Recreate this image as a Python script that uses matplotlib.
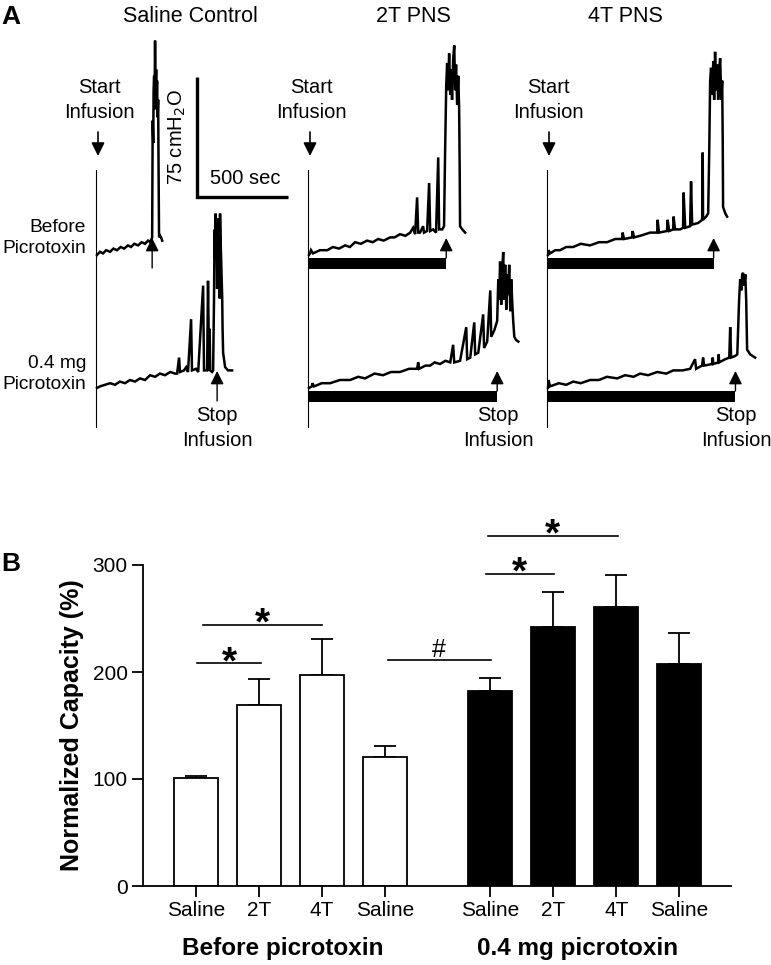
import matplotlib.pyplot as plt
from matplotlib.patches import Rectangle
import numpy as np

plt.rcParams['font.family'] = ['Liberation Sans', 'DejaVu Sans']

# ---------------- Panel A: cystometry traces ----------------
# time (s) from start of infusion, pressure (cmH2O) above starting pressure

# saline control, before picrotoxin
sal_pre_t = [0, 16, 33, 50, 72, 90, 110, 130, 149, 170, 187, 205, 226, 245, 264, 280, 292, 303,
             306, 309, 311, 314, 316, 319, 322, 325, 327, 330, 333, 336, 338, 341, 347, 352, 358]
sal_pre_p = [0, 2, 1, 3, 2, 4, 3, 5, 4, 6, 5, 7, 6, 8, 7, 9, 8, 11,
             84, 70, 103, 112, 91, 134, 100, 116, 94, 109, 86, 97, 59, 11, 12, 11, 9]

# saline control, 0.4 mg picrotoxin
sal_pic_t = [0, 16, 44, 72, 99, 126, 154, 181, 209, 236, 264, 292, 319, 346, 374, 402, 429, 440,
             451, 456, 478, 490, 500, 517, 522, 544, 556, 583, 588, 605, 610, 616, 619, 622, 632,
             638, 643, 646, 649, 652, 654, 657, 660, 663, 666, 668, 671, 674, 676, 679, 682, 685,
             688, 690, 693, 704, 720, 742]
sal_pic_p = [0, 1, 2, 3, 2, 4, 3, 5, 4, 6, 5, 8, 7, 9, 8, 10, 9, 9,
             19, 10, 11, 13, 10, 43, 11, 12, 10, 64, 11, 11, 67, 11, 37, 11, 10,
             11, 56, 99, 81, 109, 87, 102, 62, 96, 74, 106, 90, 56, 109, 93, 81, 68,
             56, 37, 22, 13, 11, 11]

# 2T PNS, before picrotoxin
t2_pre_t = [0, 6, 11, 22, 60, 100, 132, 165, 198, 225, 253, 285, 319, 350, 380, 410, 446, 470,
            500, 530, 556, 572, 583, 594, 600, 610, 627, 632, 649, 660, 666, 682, 698, 710, 715,
            732, 742, 748, 754, 759, 764, 770, 776, 781, 786, 792, 798, 803, 808, 814, 820, 825,
            828, 830, 842, 858]
t2_pre_p = [0, 1, 3, 1, 3, 3, 5, 4, 6, 5, 8, 7, 9, 8, 10, 9, 11, 11,
            13, 12, 14, 17, 13, 36, 14, 14, 18, 14, 15, 45, 15, 16, 14, 61, 16,
            16, 18, 66, 106, 120, 103, 126, 100, 116, 97, 122, 131, 103, 119, 94, 112, 91,
            53, 18, 16, 14]

# 2T PNS, 0.4 mg picrotoxin
t2_pic_t = [0, 16, 19, 28, 70, 116, 170, 226, 270, 308, 360, 407, 450, 500, 550, 594, 600, 605,
            640, 666, 690, 720, 750, 776, 792, 798, 830, 864, 869, 886, 908, 913, 930, 957, 962,
            979, 996, 1001, 1018, 1034, 1040, 1045, 1050, 1056, 1062, 1067, 1072, 1078, 1084,
            1089, 1094, 1100, 1106, 1111, 1116, 1122, 1128, 1138, 1150]
t2_pic_p = [0, 1, 3, 1, 3, 3, 5, 5, 7, 6, 9, 8, 10, 10, 12, 12, 16, 12,
            14, 14, 16, 15, 17, 16, 27, 16, 17, 38, 18, 19, 41, 21, 22, 46, 25,
            29, 61, 32, 36, 42, 68, 55, 79, 52, 74, 85, 55, 77, 49,
            71, 58, 77, 48, 68, 55, 42, 32, 30, 29]

# 4T PNS, before picrotoxin
t4_pre_t = [0, 3, 11, 40, 66, 100, 138, 180, 231, 280, 324, 370, 407, 410, 418, 462, 465, 473,
            506, 534, 561, 600, 602, 610, 654, 657, 666, 688, 690, 698, 726, 742, 745, 754, 781,
            786, 792, 825, 847, 850, 852, 869, 880, 886, 891, 896, 902, 908, 913, 918, 924, 930,
            935, 940, 946, 952, 957, 960, 962, 974, 984]
t4_pre_p = [0, 3, 1, 3, 3, 5, 5, 7, 6, 8, 8, 10, 10, 14, 10, 11, 15, 11,
            12, 13, 14, 14, 22, 14, 15, 22, 15, 16, 24, 16, 16, 17, 39, 17, 18,
            46, 19, 20, 22, 64, 22, 24, 26, 66, 109, 117, 100, 121, 97, 127, 103, 119,
            97, 116, 123, 97, 109, 72, 30, 26, 24]

# 4T PNS, 0.4 mg picrotoxin
t4_pic_t = [0, 3, 11, 60, 100, 138, 180, 231, 280, 324, 380, 424, 470, 506, 550, 600, 650, 688,
            740, 781, 808, 814, 847, 852, 858, 902, 905, 908, 935, 938, 940, 974, 996, 1001, 1006,
            1028, 1040, 1050, 1056, 1062, 1067, 1072, 1078, 1084, 1089, 1094, 1111, 1138]
t4_pic_p = [0, 5, 1, 3, 2, 4, 3, 5, 5, 7, 6, 8, 7, 9, 8, 10, 9, 11,
            11, 12, 18, 12, 14, 19, 14, 15, 19, 15, 16, 21, 16, 18, 19, 38, 19,
            20, 21, 55, 68, 61, 71, 72, 64, 71, 55, 24, 21, 19]

# stop-infusion times (s)
stop_pre = [303, 754, 910]
stop_pic = [660, 1034, 1030]

col_titles = ['Saline Control', '2T PNS', '4T PNS']
scale_sec = 500
scale_cm = 75

# ---------------- Panel B: normalized capacity ----------------
groups = ['Saline', '2T', '4T', 'Saline']
before_mean = [100.6, 169, 197, 121]
before_sem = [1.9, 24, 33.5, 10]
picro_mean = [182.5, 242, 260.5, 207.5]
picro_sem = [12, 33, 30, 29]

sig_x0 = [0.02, 0.11, 3.04, 4.60, 4.63]
sig_x1 = [1.03, 2.00, 4.68, 5.68, 6.70]
sig_y = [208, 244, 211, 292, 327]
sig_mark = ['*', '*', '#', '*', '*']

# ---------------- figure ----------------
fig = plt.figure(figsize=(7.71, 9.65), dpi=100)

# overlay axes in pixel units for panel A
ax = fig.add_axes([0, 0, 1, 1])
ax.set_xlim(0, 771)
ax.set_ylim(965, 0)
ax.axis('off')

px_s = 91 / scale_sec      # px per second
px_cm = 120 / scale_cm     # px per cmH2O
col_x = [97, 309, 548]
row_y = [255, 388]
traces = [[(sal_pre_t, sal_pre_p), (sal_pic_t, sal_pic_p)],
          [(t2_pre_t, t2_pre_p), (t2_pic_t, t2_pic_p)],
          [(t4_pre_t, t4_pre_p), (t4_pic_t, t4_pic_p)]]
stops = [stop_pre, stop_pic]

title_x = [190, 413, 625]
start_x = [99, 311, 548]
stop_lbl_x = [217, 498, 736]
for c in range(3):
    x0 = col_x[c]
    ax.text(title_x[c], 17, col_titles[c], ha='center', va='center', fontsize=15.5)
    ax.text(start_x[c], 100, 'Start\nInfusion', ha='center', va='center', fontsize=14.5,
            linespacing=1.35)
    ax.annotate('', xy=(x0 + 1, 156), xytext=(x0 + 1, 132),
                arrowprops=dict(arrowstyle='-|>', color='k', lw=1.2, mutation_scale=20,
                                shrinkA=0, shrinkB=0))
    ax.plot([x0 - 1, x0 - 1], [170, 427], color='k', lw=0.8)
    ax.text(stop_lbl_x[c], 428, 'Stop\nInfusion', ha='center', va='center', fontsize=14.5,
            linespacing=1.35)
    for r in range(2):
        t, p = traces[c][r]
        y0 = row_y[r]
        ax.plot(x0 + np.array(t) * px_s, y0 - np.array(p) * px_cm, color='k', lw=1.8,
                solid_joinstyle='miter')
        xs = x0 + stops[r][c] * px_s
        if c == 0:
            base = y0 + 13
        else:
            ax.add_patch(Rectangle((x0, y0 + 3), stops[r][c] * px_s, 11, color='k', lw=0))
            base = y0 + 3
        ax.annotate('', xy=(xs, y0 - 17), xytext=(xs, base),
                    arrowprops=dict(arrowstyle='-|>', color='k', lw=1.0, mutation_scale=20,
                                    shrinkA=0, shrinkB=0))

ax.text(86, 238, 'Before\nPicrotoxin', ha='right', va='center', fontsize=13.8, linespacing=1.35)
ax.text(86, 374, '0.4 mg\nPicrotoxin', ha='right', va='center', fontsize=13.8, linespacing=1.35)

# scale bars
sx, sy = 197, 197
ax.plot([sx, sx, sx + scale_sec * px_s], [sy - scale_cm * px_cm, sy, sy], color='k', lw=2.4,
        solid_joinstyle='miter', solid_capstyle='butt')
ax.text(177, 137, f'{scale_cm} cmH$_2$O', rotation=90, ha='center', va='center', fontsize=14.5)
ax.text(245, 178, f'{scale_sec} sec', ha='center', va='center', fontsize=14.5)

ax.text(1, 17, 'A', ha='left', va='center', fontsize=19, fontweight='bold')
ax.text(1, 564, 'B', ha='left', va='center', fontsize=19, fontweight='bold')

# ---------------- Panel B ----------------
axb = fig.add_axes([143 / 771, 1 - 886 / 965, (731 - 143) / 771, (886 - 565) / 965])
axb.patch.set_alpha(0)
pos_b = [0, 1, 2, 3]
pos_p = [4.67, 5.67, 6.67, 7.67]
axb.bar(pos_b, before_mean, width=0.7, color='white', edgecolor='k', lw=1.3, zorder=2)
axb.bar(pos_p, picro_mean, width=0.7, color='k', edgecolor='k', lw=1.3, zorder=2)
axb.errorbar(pos_b + pos_p, before_mean + picro_mean,
             yerr=[[0] * 8, before_sem + picro_sem], fmt='none', ecolor='k',
             elinewidth=1.3, capsize=8, capthick=1.3, zorder=1)

for x0, x1, y, m in zip(sig_x0, sig_x1, sig_y, sig_mark):
    axb.plot([x0, x1], [y, y], color='k', lw=1.2, clip_on=False)
    if m == '*':
        axb.text((x0 + x1) / 2, y - 9, m, ha='center', va='baseline', fontsize=28,
                 fontweight='bold', clip_on=False)
    else:
        axb.text((x0 + x1) / 2, y + 3, m, ha='center', va='baseline', fontsize=18,
                 clip_on=False)

axb.set_xlim(-0.84, 8.49)
axb.set_ylim(0, 300)
axb.set_yticks([0, 100, 200, 300])
axb.set_xticks(pos_b + pos_p)
axb.set_xticklabels(groups + groups)
axb.tick_params(axis='both', length=8, width=1.3, labelsize=15, pad=3)
for s in ['top', 'right']:
    axb.spines[s].set_visible(False)
for s in ['left', 'bottom']:
    axb.spines[s].set_linewidth(1.3)
axb.set_ylabel('Normalized Capacity (%)', fontsize=18, fontweight='bold')
axb.yaxis.set_label_coords(-0.1, 0.5)

xt = axb.get_xaxis_transform()
axb.text(1.38, -0.195, 'Before picrotoxin', transform=xt, ha='center', va='center',
         fontsize=17.5, fontweight='bold')
axb.text(6.05, -0.195, '0.4 mg picrotoxin', transform=xt, ha='center', va='center',
         fontsize=17.5, fontweight='bold')

fig.savefig('out.png', dpi=100)
